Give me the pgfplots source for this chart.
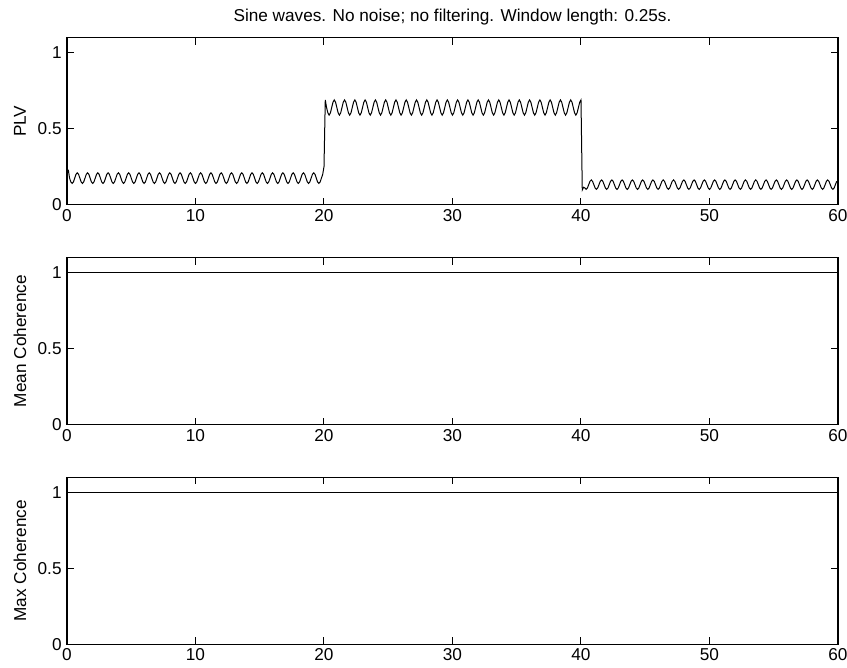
\documentclass[border=0pt]{standalone}
\usepackage{fontspec}
\setmainfont{Liberation Sans}
\usepackage{pgfplots}
\pgfplotsset{compat=1.18}
\newcommand{\fs}{\fontsize{8.6}{10}\selectfont}
\pgfplotsset{myax/.style={
 scale only axis, width=385.5pt, height=83.5pt, anchor=south west,
 xmin=0,xmax=60,ymin=0,ymax=1.1,
 xtick={0,10,...,60}, ytick={0,0.5,1},
 tick align=inside, major tick length=3.5pt,
 tick style={black, line width=0.5pt},
 axis line style={line width=0.6pt},
 /pgf/number format/assume math mode=true,
 ticklabel style={font=\fs, inner sep=0pt},
 xticklabel style={anchor=north, yshift=-2pt},
 yticklabel style={anchor=east, xshift=-2.5pt},
 ylabel style={font=\fs, at={(axis description cs:-0.061,0.5)}, anchor=center},
}}
\begin{document}
\begin{tikzpicture}
\path[use as bounding box] (0,0) rectangle (423.5pt,334pt);
\node[font=\fs, anchor=base] at (226.25pt,323pt) {Sine waves. No noise; no filtering. Window length: 0.25s.};
% PLV
\begin{axis}[myax, at={(33.5pt,231.65pt)}, ylabel={PLV}]
\addplot[black, line width=0.5pt] coordinates {
(0.1,0.23)(0.2,0.175)(0.3,0.150)(0.4,0.140)(0.5,0.150)(0.6,0.175)(0.7,0.200)
(0.8,0.210)(0.9,0.200)(1.0,0.175)(1.1,0.150)(1.2,0.140)(1.3,0.150)(1.4,0.175)(1.5,0.200)
(1.6,0.210)(1.7,0.200)(1.8,0.175)(1.9,0.150)(2.0,0.140)(2.1,0.150)(2.2,0.175)(2.3,0.200)
(2.4,0.210)(2.5,0.200)(2.6,0.175)(2.7,0.150)(2.8,0.140)(2.9,0.150)(3.0,0.175)(3.1,0.200)
(3.2,0.210)(3.3,0.200)(3.4,0.175)(3.5,0.150)(3.6,0.140)(3.7,0.150)(3.8,0.175)(3.9,0.200)
(4.0,0.210)(4.1,0.200)(4.2,0.175)(4.3,0.150)(4.4,0.140)(4.5,0.150)(4.6,0.175)(4.7,0.200)
(4.8,0.210)(4.9,0.200)(5.0,0.175)(5.1,0.150)(5.2,0.140)(5.3,0.150)(5.4,0.175)(5.5,0.200)
(5.6,0.210)(5.7,0.200)(5.8,0.175)(5.9,0.150)(6.0,0.140)(6.1,0.150)(6.2,0.175)(6.3,0.200)
(6.4,0.210)(6.5,0.200)(6.6,0.175)(6.7,0.150)(6.8,0.140)(6.9,0.150)(7.0,0.175)(7.1,0.200)
(7.2,0.210)(7.3,0.200)(7.4,0.175)(7.5,0.150)(7.6,0.140)(7.7,0.150)(7.8,0.175)(7.9,0.200)
(8.0,0.210)(8.1,0.200)(8.2,0.175)(8.3,0.150)(8.4,0.140)(8.5,0.150)(8.6,0.175)(8.7,0.200)
(8.8,0.210)(8.9,0.200)(9.0,0.175)(9.1,0.150)(9.2,0.140)(9.3,0.150)(9.4,0.175)(9.5,0.200)
(9.6,0.210)(9.7,0.200)(9.8,0.175)(9.9,0.150)(10.0,0.140)(10.1,0.150)(10.2,0.175)(10.3,0.200)
(10.4,0.210)(10.5,0.200)(10.6,0.175)(10.7,0.150)(10.8,0.140)(10.9,0.150)(11.0,0.175)(11.1,0.200)
(11.2,0.210)(11.3,0.200)(11.4,0.175)(11.5,0.150)(11.6,0.140)(11.7,0.150)(11.8,0.175)(11.9,0.200)
(12.0,0.210)(12.1,0.200)(12.2,0.175)(12.3,0.150)(12.4,0.140)(12.5,0.150)(12.6,0.175)(12.7,0.200)
(12.8,0.210)(12.9,0.200)(13.0,0.175)(13.1,0.150)(13.2,0.140)(13.3,0.150)(13.4,0.175)(13.5,0.200)
(13.6,0.210)(13.7,0.200)(13.8,0.175)(13.9,0.150)(14.0,0.140)(14.1,0.150)(14.2,0.175)(14.3,0.200)
(14.4,0.210)(14.5,0.200)(14.6,0.175)(14.7,0.150)(14.8,0.140)(14.9,0.150)(15.0,0.175)(15.1,0.200)
(15.2,0.210)(15.3,0.200)(15.4,0.175)(15.5,0.150)(15.6,0.140)(15.7,0.150)(15.8,0.175)(15.9,0.200)
(16.0,0.210)(16.1,0.200)(16.2,0.175)(16.3,0.150)(16.4,0.140)(16.5,0.150)(16.6,0.175)(16.7,0.200)
(16.8,0.210)(16.9,0.200)(17.0,0.175)(17.1,0.150)(17.2,0.140)(17.3,0.150)(17.4,0.175)(17.5,0.200)
(17.6,0.210)(17.7,0.200)(17.8,0.175)(17.9,0.150)(18.0,0.140)(18.1,0.150)(18.2,0.175)(18.3,0.200)
(18.4,0.210)(18.5,0.200)(18.6,0.175)(18.7,0.150)(18.8,0.140)(18.9,0.150)(19.0,0.175)(19.1,0.200)
(19.2,0.210)(19.3,0.200)(19.4,0.175)(19.5,0.150)(19.6,0.140)(19.7,0.150)(19.8,0.175)(19.9,0.200)
(20.0,0.250)
(20.1,0.690)(20.2,0.640)(20.3,0.605)(20.4,0.590)(20.5,0.605)(20.6,0.640)(20.7,0.675)
(20.8,0.690)(20.9,0.675)(21.0,0.640)(21.1,0.605)(21.2,0.590)(21.3,0.605)(21.4,0.640)(21.5,0.675)
(21.6,0.690)(21.7,0.675)(21.8,0.640)(21.9,0.605)(22.0,0.590)(22.1,0.605)(22.2,0.640)(22.3,0.675)
(22.4,0.690)(22.5,0.675)(22.6,0.640)(22.7,0.605)(22.8,0.590)(22.9,0.605)(23.0,0.640)(23.1,0.675)
(23.2,0.690)(23.3,0.675)(23.4,0.640)(23.5,0.605)(23.6,0.590)(23.7,0.605)(23.8,0.640)(23.9,0.675)
(24.0,0.690)(24.1,0.675)(24.2,0.640)(24.3,0.605)(24.4,0.590)(24.5,0.605)(24.6,0.640)(24.7,0.675)
(24.8,0.690)(24.9,0.675)(25.0,0.640)(25.1,0.605)(25.2,0.590)(25.3,0.605)(25.4,0.640)(25.5,0.675)
(25.6,0.690)(25.7,0.675)(25.8,0.640)(25.9,0.605)(26.0,0.590)(26.1,0.605)(26.2,0.640)(26.3,0.675)
(26.4,0.690)(26.5,0.675)(26.6,0.640)(26.7,0.605)(26.8,0.590)(26.9,0.605)(27.0,0.640)(27.1,0.675)
(27.2,0.690)(27.3,0.675)(27.4,0.640)(27.5,0.605)(27.6,0.590)(27.7,0.605)(27.8,0.640)(27.9,0.675)
(28.0,0.690)(28.1,0.675)(28.2,0.640)(28.3,0.605)(28.4,0.590)(28.5,0.605)(28.6,0.640)(28.7,0.675)
(28.8,0.690)(28.9,0.675)(29.0,0.640)(29.1,0.605)(29.2,0.590)(29.3,0.605)(29.4,0.640)(29.5,0.675)
(29.6,0.690)(29.7,0.675)(29.8,0.640)(29.9,0.605)(30.0,0.590)(30.1,0.605)(30.2,0.640)(30.3,0.675)
(30.4,0.690)(30.5,0.675)(30.6,0.640)(30.7,0.605)(30.8,0.590)(30.9,0.605)(31.0,0.640)(31.1,0.675)
(31.2,0.690)(31.3,0.675)(31.4,0.640)(31.5,0.605)(31.6,0.590)(31.7,0.605)(31.8,0.640)(31.9,0.675)
(32.0,0.690)(32.1,0.675)(32.2,0.640)(32.3,0.605)(32.4,0.590)(32.5,0.605)(32.6,0.640)(32.7,0.675)
(32.8,0.690)(32.9,0.675)(33.0,0.640)(33.1,0.605)(33.2,0.590)(33.3,0.605)(33.4,0.640)(33.5,0.675)
(33.6,0.690)(33.7,0.675)(33.8,0.640)(33.9,0.605)(34.0,0.590)(34.1,0.605)(34.2,0.640)(34.3,0.675)
(34.4,0.690)(34.5,0.675)(34.6,0.640)(34.7,0.605)(34.8,0.590)(34.9,0.605)(35.0,0.640)(35.1,0.675)
(35.2,0.690)(35.3,0.675)(35.4,0.640)(35.5,0.605)(35.6,0.590)(35.7,0.605)(35.8,0.640)(35.9,0.675)
(36.0,0.690)(36.1,0.675)(36.2,0.640)(36.3,0.605)(36.4,0.590)(36.5,0.605)(36.6,0.640)(36.7,0.675)
(36.8,0.690)(36.9,0.675)(37.0,0.640)(37.1,0.605)(37.2,0.590)(37.3,0.605)(37.4,0.640)(37.5,0.675)
(37.6,0.690)(37.7,0.675)(37.8,0.640)(37.9,0.605)(38.0,0.590)(38.1,0.605)(38.2,0.640)(38.3,0.675)
(38.4,0.690)(38.5,0.675)(38.6,0.640)(38.7,0.605)(38.8,0.590)(38.9,0.605)(39.0,0.640)(39.1,0.675)
(39.2,0.690)(39.3,0.675)(39.4,0.640)(39.5,0.605)(39.6,0.590)(39.7,0.605)(39.8,0.640)(39.9,0.675)
(40.0,0.690)
(40.1,0.097)(40.2,0.115)(40.3,0.110)(40.4,0.101)(40.5,0.110)(40.6,0.132)(40.7,0.154)
(40.8,0.163)(40.9,0.154)(41.0,0.132)(41.1,0.110)(41.2,0.101)(41.3,0.110)(41.4,0.132)(41.5,0.154)
(41.6,0.163)(41.7,0.154)(41.8,0.132)(41.9,0.110)(42.0,0.101)(42.1,0.110)(42.2,0.132)(42.3,0.154)
(42.4,0.163)(42.5,0.154)(42.6,0.132)(42.7,0.110)(42.8,0.101)(42.9,0.110)(43.0,0.132)(43.1,0.154)
(43.2,0.163)(43.3,0.154)(43.4,0.132)(43.5,0.110)(43.6,0.101)(43.7,0.110)(43.8,0.132)(43.9,0.154)
(44.0,0.163)(44.1,0.154)(44.2,0.132)(44.3,0.110)(44.4,0.101)(44.5,0.110)(44.6,0.132)(44.7,0.154)
(44.8,0.163)(44.9,0.154)(45.0,0.132)(45.1,0.110)(45.2,0.101)(45.3,0.110)(45.4,0.132)(45.5,0.154)
(45.6,0.163)(45.7,0.154)(45.8,0.132)(45.9,0.110)(46.0,0.101)(46.1,0.110)(46.2,0.132)(46.3,0.154)
(46.4,0.163)(46.5,0.154)(46.6,0.132)(46.7,0.110)(46.8,0.101)(46.9,0.110)(47.0,0.132)(47.1,0.154)
(47.2,0.163)(47.3,0.154)(47.4,0.132)(47.5,0.110)(47.6,0.101)(47.7,0.110)(47.8,0.132)(47.9,0.154)
(48.0,0.163)(48.1,0.154)(48.2,0.132)(48.3,0.110)(48.4,0.101)(48.5,0.110)(48.6,0.132)(48.7,0.154)
(48.8,0.163)(48.9,0.154)(49.0,0.132)(49.1,0.110)(49.2,0.101)(49.3,0.110)(49.4,0.132)(49.5,0.154)
(49.6,0.163)(49.7,0.154)(49.8,0.132)(49.9,0.110)(50.0,0.101)(50.1,0.110)(50.2,0.132)(50.3,0.154)
(50.4,0.163)(50.5,0.154)(50.6,0.132)(50.7,0.110)(50.8,0.101)(50.9,0.110)(51.0,0.132)(51.1,0.154)
(51.2,0.163)(51.3,0.154)(51.4,0.132)(51.5,0.110)(51.6,0.101)(51.7,0.110)(51.8,0.132)(51.9,0.154)
(52.0,0.163)(52.1,0.154)(52.2,0.132)(52.3,0.110)(52.4,0.101)(52.5,0.110)(52.6,0.132)(52.7,0.154)
(52.8,0.163)(52.9,0.154)(53.0,0.132)(53.1,0.110)(53.2,0.101)(53.3,0.110)(53.4,0.132)(53.5,0.154)
(53.6,0.163)(53.7,0.154)(53.8,0.132)(53.9,0.110)(54.0,0.101)(54.1,0.110)(54.2,0.132)(54.3,0.154)
(54.4,0.163)(54.5,0.154)(54.6,0.132)(54.7,0.110)(54.8,0.101)(54.9,0.110)(55.0,0.132)(55.1,0.154)
(55.2,0.163)(55.3,0.154)(55.4,0.132)(55.5,0.110)(55.6,0.101)(55.7,0.110)(55.8,0.132)(55.9,0.154)
(56.0,0.163)(56.1,0.154)(56.2,0.132)(56.3,0.110)(56.4,0.101)(56.5,0.110)(56.6,0.132)(56.7,0.154)
(56.8,0.163)(56.9,0.154)(57.0,0.132)(57.1,0.110)(57.2,0.101)(57.3,0.110)(57.4,0.132)(57.5,0.154)
(57.6,0.163)(57.7,0.154)(57.8,0.132)(57.9,0.110)(58.0,0.101)(58.1,0.110)(58.2,0.132)(58.3,0.154)
(58.4,0.163)(58.5,0.154)(58.6,0.132)(58.7,0.110)(58.8,0.101)(58.9,0.110)(59.0,0.132)(59.1,0.154)
(59.2,0.163)(59.3,0.154)(59.4,0.132)(59.5,0.110)(59.6,0.101)(59.7,0.110)(59.8,0.132)(59.9,0.154)
};
\end{axis}
% Mean Coherence
\begin{axis}[myax, at={(33.5pt,121.65pt)}, ylabel={Mean Coherence}]
\addplot[black, line width=0.5pt] coordinates {(0.125,1)(59.875,1)};
\end{axis}
% Max Coherence
\begin{axis}[myax, at={(33.5pt,11.85pt)}, ylabel={Max Coherence}]
\addplot[black, line width=0.5pt] coordinates {(0.125,1)(59.875,1)};
\end{axis}
\end{tikzpicture}
\end{document}
